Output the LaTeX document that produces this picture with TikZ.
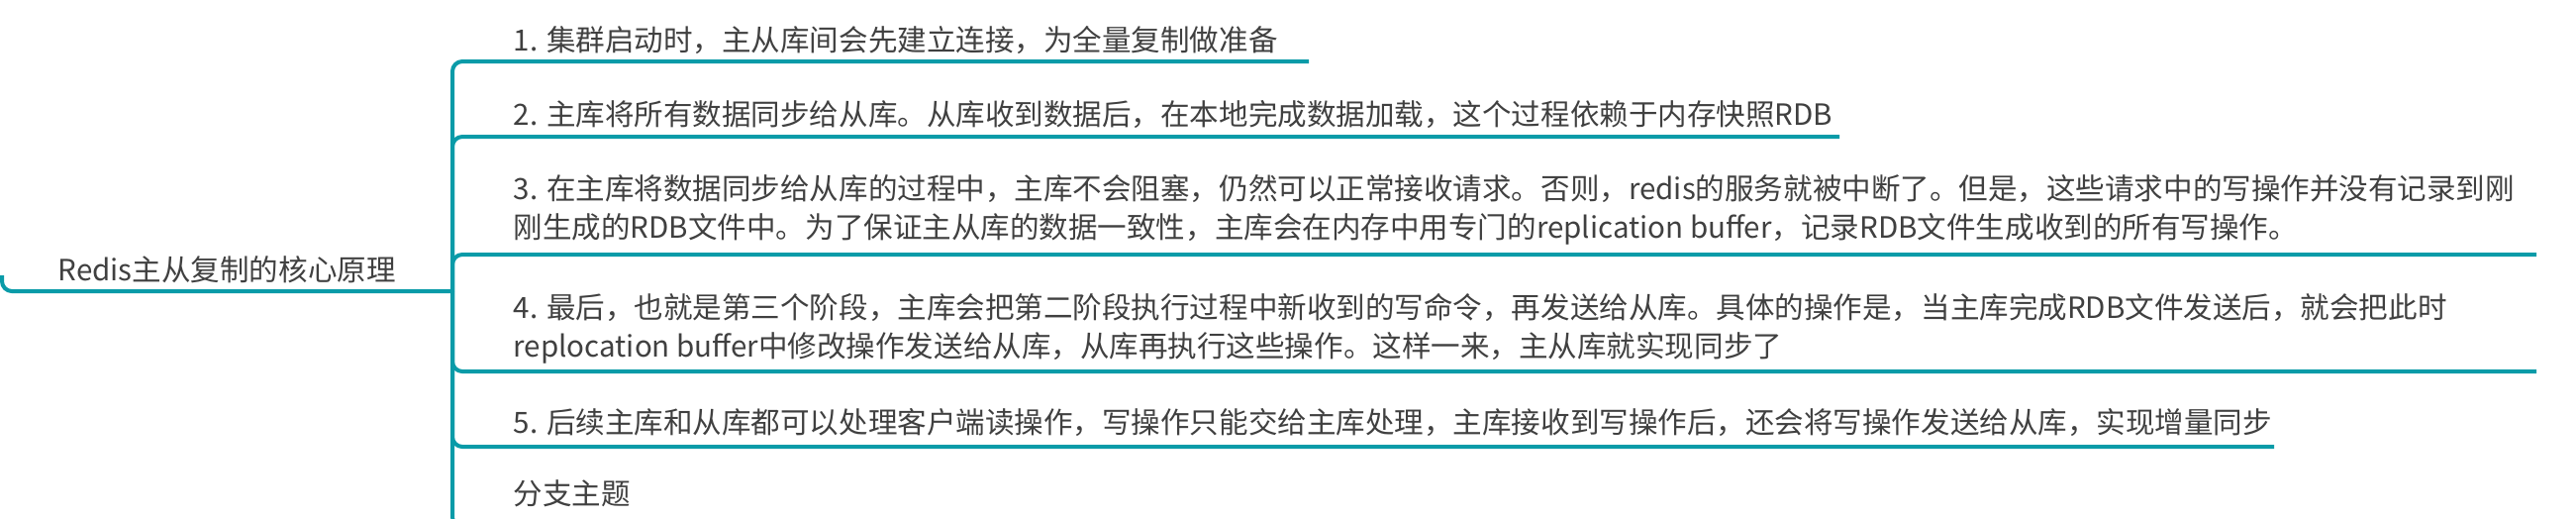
\documentclass[tikz,border=0pt]{standalone}
\usepackage{fontspec}
\setmainfont{Noto Sans CJK SC}
\usetikzlibrary{positioning}
\definecolor{mapTeal}{HTML}{0A9BA8}
\definecolor{mapInk}{HTML}{404040}
\newcommand{\topicfont}{\fontsize{8.4pt}{11pt}\selectfont}
\tikzset{
    branch/.style={draw=mapTeal, line width=0.04cm, rounded corners=0.1cm},
    topic/.style={anchor=west, inner sep=0pt, text=mapInk, font=\topicfont, align=left}
}

\begin{document}
\begin{tikzpicture}[x=0.01cm, y=-0.01cm]
\useasboundingbox (0,0) rectangle (2602,523);
\clip (0,0) rectangle (2602,523);
% central topic
\node[topic] (root) at (58,272) {Redis主从复制的核心原理};
\coordinate (r0) at (2,278);
\coordinate (jn) at (457,294);
\draw[branch] (r0) |- (jn);
% subtopics
\node[topic] (t1) at (518,40) {1. 集群启动时，主从库间会先建立连接，为全量复制做准备};
\node[topic] (t2) at (518,116) {2. 主库将所有数据同步给从库。从库收到数据后，在本地完成数据加载，这个过程依赖于内存快照RDB};
\node[topic] (t3) at (518,212) {3. 在主库将数据同步给从库的过程中，主库不会阻塞，仍然可以正常接收请求。否则，redis的服务就被中断了。但是，这些请求中的写操作并没有记录到刚\\刚生成的RDB文件中。为了保证主从库的数据一致性，主库会在内存中用专门的replication buffer，记录RDB文件生成收到的所有写操作。};
\node[topic] (t4) at (518,332) {4. 最后，也就是第三个阶段，主库会把第二阶段执行过程中新收到的写命令，再发送给从库。具体的操作是，当主库完成RDB文件发送后，就会把此时\\replocation buffer中修改操作发送给从库，从库再执行这些操作。这样一来，主从库就实现同步了};
\node[topic] (t5) at (518,427) {5. 后续主库和从库都可以处理客户端读操作，写操作只能交给主库处理，主库接收到写操作后，还会将写操作发送给从库，实现增量同步};
\node[topic] (t6) at (518,498) {分支主题};
% underline ends
\coordinate (e1) at (1322,62);
\coordinate (e2) at (1858,138);
\coordinate (e3) at (2562,257);
\coordinate (e4) at (2562,375);
\coordinate (e5) at (2297,451);
\coordinate (e6) at (656,532);
\foreach \e in {e1,e2,e3,e4,e5,e6}
    \draw[branch] (jn) |- (\e);
\end{tikzpicture}
\end{document}
